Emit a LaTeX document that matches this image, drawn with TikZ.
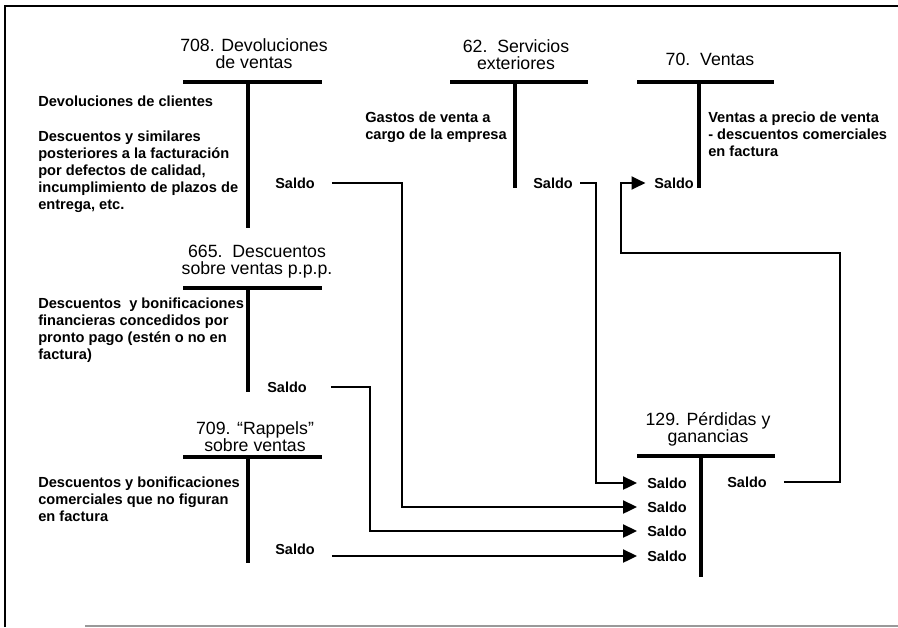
\documentclass[tikz,border=0pt]{standalone}
\usepackage{fontspec}
\setmainfont{Liberation Sans}
\usetikzlibrary{arrows.meta}

\begin{document}
\begin{tikzpicture}[
        x=0.025cm, y=-0.025cm,
        titulo/.style={align=center, inner sep=0pt, anchor=north, font=\fontsize{12.6}{12}\selectfont},
        texto/.style={align=left, inner sep=0pt, anchor=north west, font=\fontsize{10.4}{12.1}\selectfont\bfseries},
        saldo/.style={inner sep=0pt, anchor=west, font=\fontsize{10.3}{12}\selectfont\bfseries},
        cuenta/.style={line width=2.2pt},
        flecha/.style={line width=2.1pt, -{Triangle[length=10pt,width=9pt]}, shorten <=12pt, shorten >=7pt}
    ]
    \useasboundingbox (0,0) rectangle (898,627);

    % Marco
    \draw[line width=1.5pt] (5,627) -- (5,6) -- (898,6);
    \draw[black!40, line width=1pt] (85,626) -- (898,626);

    % Cuenta 708
    \node[titulo] (t708) at (254,38) {708. Devoluciones\\de ventas};
    \draw[cuenta] (183,82) -- (322,82);
    \draw[cuenta] (248,82) -- (248,228);
    \node[texto] (d708a) at (38,96) {Devoluciones de clientes};
    \node[texto] (d708b) at (38,131) {Descuentos y similares\\posteriores a la facturación\\por defectos de calidad,\\incumplimiento de plazos de\\entrega, etc.};
    \node[saldo] (s708) at (275,183) {Saldo};

    % Cuenta 665
    \node[titulo] (t665) at (257,245) {665.\ \ Descuentos\\sobre ventas p.p.p.};
    \draw[cuenta] (183,288) -- (322,288);
    \draw[cuenta] (248,288) -- (248,392);
    \node[texto] (d665) at (38,298) {Descuentos\ \ y bonificaciones\\financieras concedidos por\\pronto pago (estén o no en\\factura)};
    \node[saldo] (s665) at (267,387) {Saldo};

    % Cuenta 709
    \node[titulo] (t709) at (255,421) {709. ``Rappels''\\sobre ventas};
    \draw[cuenta] (183,457) -- (322,457);
    \draw[cuenta] (248,457) -- (248,563);
    \node[texto] (d709) at (38,477) {Descuentos y bonificaciones\\comerciales que no figuran\\en factura};
    \node[saldo] (s709) at (275,549) {Saldo};

    % Cuenta 62
    \node[titulo] (t62) at (516,39) {62.\ \ Servicios\\exteriores};
    \draw[cuenta] (450,82) -- (588,82);
    \draw[cuenta] (515,82) -- (515,188);
    \node[texto] (d62) at (365,112) {Gastos de venta a\\cargo de la empresa};
    \node[saldo] (s62) at (533,183) {Saldo};

    % Cuenta 70
    \node[titulo] (t70) at (710,53) {70.\ \ Ventas};
    \draw[cuenta] (637,82) -- (774,82);
    \draw[cuenta] (699,82) -- (699,188);
    \node[texto] (d70) at (708,112) {Ventas a precio de venta\\- descuentos comerciales\\en factura};
    \node[saldo] (s70) at (654,183) {Saldo};

    % Cuenta 129
    \node[titulo] (t129) at (708,412) {129. Pérdidas y\\ganancias};
    \draw[cuenta] (637,456) -- (775,456);
    \draw[cuenta] (701,456) -- (701,577);
    \foreach \y/\n in {483/1, 507/2, 531/3, 556/4}
        \node[saldo] (pg\n) at (647,\y) {Saldo};
    \node[saldo] (pgh) at (727,482) {Saldo};

    % Traspasos de saldos
    \draw[flecha] (s708.east) -| (402,300) |- (pg2.west);
    \draw[flecha, shorten <=17pt] (s665.east) -| (370,450) |- (pg3.west);
    \draw[flecha] (s709.east |- pg4.west) -- (pg4.west);
    \draw[flecha, shorten <=5pt] (s62.east) -| (596,300) |- (pg1.west);
    \draw[flecha, shorten >=6pt] (pgh.east) -| (840,253) -- (621,253) |- (s70.west);

\end{tikzpicture}
\end{document}
